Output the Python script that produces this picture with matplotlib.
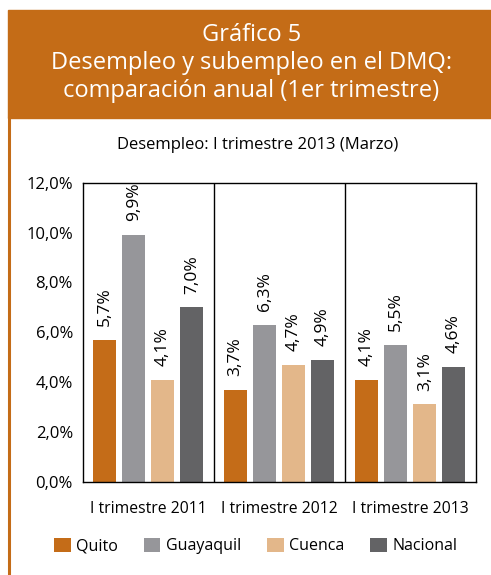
import matplotlib.pyplot as plt
import numpy as np
from matplotlib.patches import Rectangle

plt.rcParams['font.family'] = ['Open Sans', 'DejaVu Sans']

periodos = ["I trimestre 2011", "I trimestre 2012", "I trimestre 2013"]
ciudades = ["Quito", "Guayaquil", "Cuenca", "Nacional"]
quito = [5.7, 3.7, 4.1]
guayaquil = [9.9, 6.3, 5.5]
cuenca = [4.1, 4.7, 3.1]
nacional = [7.0, 4.9, 4.6]
colores = ["#C46C18", "#96969A", "#E3B78A", "#636365"]
naranja = "#C46C17"

fig = plt.figure(figsize=(4.91, 5.75), dpi=100)

# header box
fig.patches.append(Rectangle((8/491, 1-118/575), 1-8/491, 108/575,
                             transform=fig.transFigure, color=naranja, zorder=0))
fig.lines.append(plt.Line2D([9/491, 9/491], [0, 1-118/575], transform=fig.transFigure,
                            color=naranja, lw=2.2))
for yy, txt in [(35, "Gráfico 5"), (63, "Desempleo y subempleo en el DMQ:"),
                (91, "comparación anual (1er trimestre)")]:
    fig.text(0.512, 1-yy/575, txt, color="white", fontsize=17, ha="center", va="center")
fig.text(0.524, 1-145/575, "Desempleo: I trimestre 2013 (Marzo)", fontsize=12,
         ha="center", va="center")

ax = fig.add_axes([82.7/491, 1-481.7/575, 393/491, 299/575])
x = np.arange(len(periodos))
w = 0.176
step = 0.222
series = [quito, guayaquil, cuenca, nacional]
for i, (vals, c, name) in enumerate(zip(series, colores, ciudades)):
    pos = x + (i - 1.5) * step
    ax.bar(pos, vals, width=w, color=c, label=name)
    for p, v in zip(pos, vals):
        ax.text(p, v + 0.55, f"{v:.1f}%".replace(".", ","), rotation=90,
                ha="center", va="bottom", fontsize=12.5)

ax.set_xlim(-0.5, 2.5)
ax.set_ylim(0, 12)
ax.set_yticks(np.arange(0, 12.1, 2))
ax.set_yticklabels([f"{t:.1f}%".replace(".", ",") for t in np.arange(0, 12.1, 2)], fontsize=12)
ax.tick_params(axis="y", length=0, pad=7)
ax.set_xticks(x)
ax.set_xticklabels(periodos, fontsize=11.3)
ax.tick_params(axis="x", length=0, pad=14)
for b in [0.5, 1.5]:
    ax.axvline(b, color="black", lw=1)
for s in ax.spines.values():
    s.set_linewidth(1)

ax.legend(loc="center", bbox_to_anchor=(0.44, -0.215), ncol=4, frameon=False,
          fontsize=11.5, handlelength=1.05, handleheight=1.05, columnspacing=1.6,
          handletextpad=0.35)

fig.savefig("out.png", dpi=100)
